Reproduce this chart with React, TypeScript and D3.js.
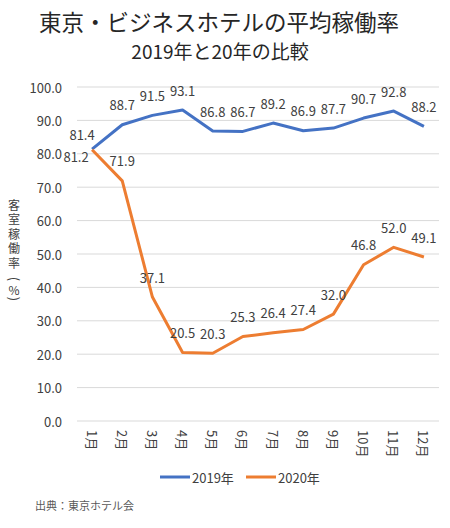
import React from "react";
import * as d3 from "d3";

const months = ["1月","2月","3月","4月","5月","6月","7月","8月","9月","10月","11月","12月"];
const values2019 = [81.4, 88.7, 91.5, 93.1, 86.8, 86.7, 89.2, 86.9, 87.7, 90.7, 92.8, 88.2];
const values2020 = [81.2, 71.9, 37.1, 20.5, 20.3, 25.3, 26.4, 27.4, 32.0, 46.8, 52.0, 49.1];
const yTicks = [0, 10, 20, 30, 40, 50, 60, 70, 80, 90, 100];
const seriesNames = ["2019年", "2020年"];
const colors = ["#4472C4", "#ED7D31"];
const yTitleChars = ["客", "室", "稼", "働", "率", "(", "%", ")"];

const FONT = "'Noto Sans CJK JP', 'Noto Sans', sans-serif";

export default function App() {
  const W = 450, H = 528;
  const x = d3.scaleBand<string>().domain(months).range([77, 439]);
  const y = d3.scaleLinear().domain([0, 100]).range([421, 87]);
  const cx = (m: string) => (x(m) as number) + x.bandwidth() / 2;
  const line = d3.line<number>().x((_, i) => cx(months[i])).y(d => y(d));
  const series = [values2019, values2020];

  const labelOffset = (s: number, i: number) => {
    if (i === 0 && s === 0) return { dx: -10, dy: -15 };
    if (i === 0 && s === 1) return { dx: -16, dy: 7 };
    return { dx: 0, dy: -20 };
  };

  const titleCharY = [204, 218.5, 233, 247.5, 262, 279, 289, 299];

  return (
    <svg width={W} height={H} style={{ position: "absolute", left: 0, top: 0, background: "#fff" }} fontFamily={FONT}>
      <rect x={0} y={0} width={W} height={H} fill="#fff" />
      <text x={219} y={21} textAnchor="middle" dominantBaseline="central" fontSize={22.5} fill="#262626">東京・ビジネスホテルの平均稼働率</text>
      <text x={220} y={50} textAnchor="middle" dominantBaseline="central" fontSize={19} fill="#262626">2019年と20年の比較</text>

      {yTicks.map(t => (
        <g key={t}>
          <line x1={77} x2={439} y1={y(t)} y2={y(t)} stroke="#d9d9d9" strokeWidth={1} />
          <text x={62} y={y(t)} textAnchor="end" dominantBaseline="central" fontSize={13} fill="#404040">{t.toFixed(1)}</text>
        </g>
      ))}

      {yTitleChars.map((c, i) => {
        const isParen = c === "(" || c === ")";
        return (
          <text key={i} transform={`translate(14,${titleCharY[i]})${isParen ? " rotate(90)" : ""}`}
            textAnchor="middle" dominantBaseline="central" fontSize={isParen ? 13 : 12} fill="#404040">{c}</text>
        );
      })}

      {months.map(m => (
        <text key={m} transform={`translate(${cx(m)},430) rotate(90)`} dominantBaseline="central" fontSize={13} fill="#404040">{m}</text>
      ))}

      {series.map((s, si) => (
        <path key={si} d={line(s) as string} fill="none" stroke={colors[si]} strokeWidth={3} strokeLinejoin="round" />
      ))}

      {series.map((s, si) => s.map((v, i) => {
        const o = labelOffset(si, i);
        return (
          <text key={`${si}-${i}`} x={cx(months[i]) + o.dx} y={y(v) + o.dy} textAnchor="middle" dominantBaseline="central" fontSize={13} fill="#404040">{v.toFixed(1)}</text>
        );
      }))}

      {seriesNames.map((n, i) => {
        const lx = 160 + i * 86;
        return (
          <g key={n}>
            <line x1={lx} x2={lx + 30} y1={477} y2={477} stroke={colors[i]} strokeWidth={3} />
            <text x={lx + 32} y={477} dominantBaseline="central" fontSize={13} fill="#404040">{n}</text>
          </g>
        );
      })}

      <text x={35} y={505} dominantBaseline="central" fontSize={11} fill="#595959">出典：東京ホテル会</text>
    </svg>
  );
}
